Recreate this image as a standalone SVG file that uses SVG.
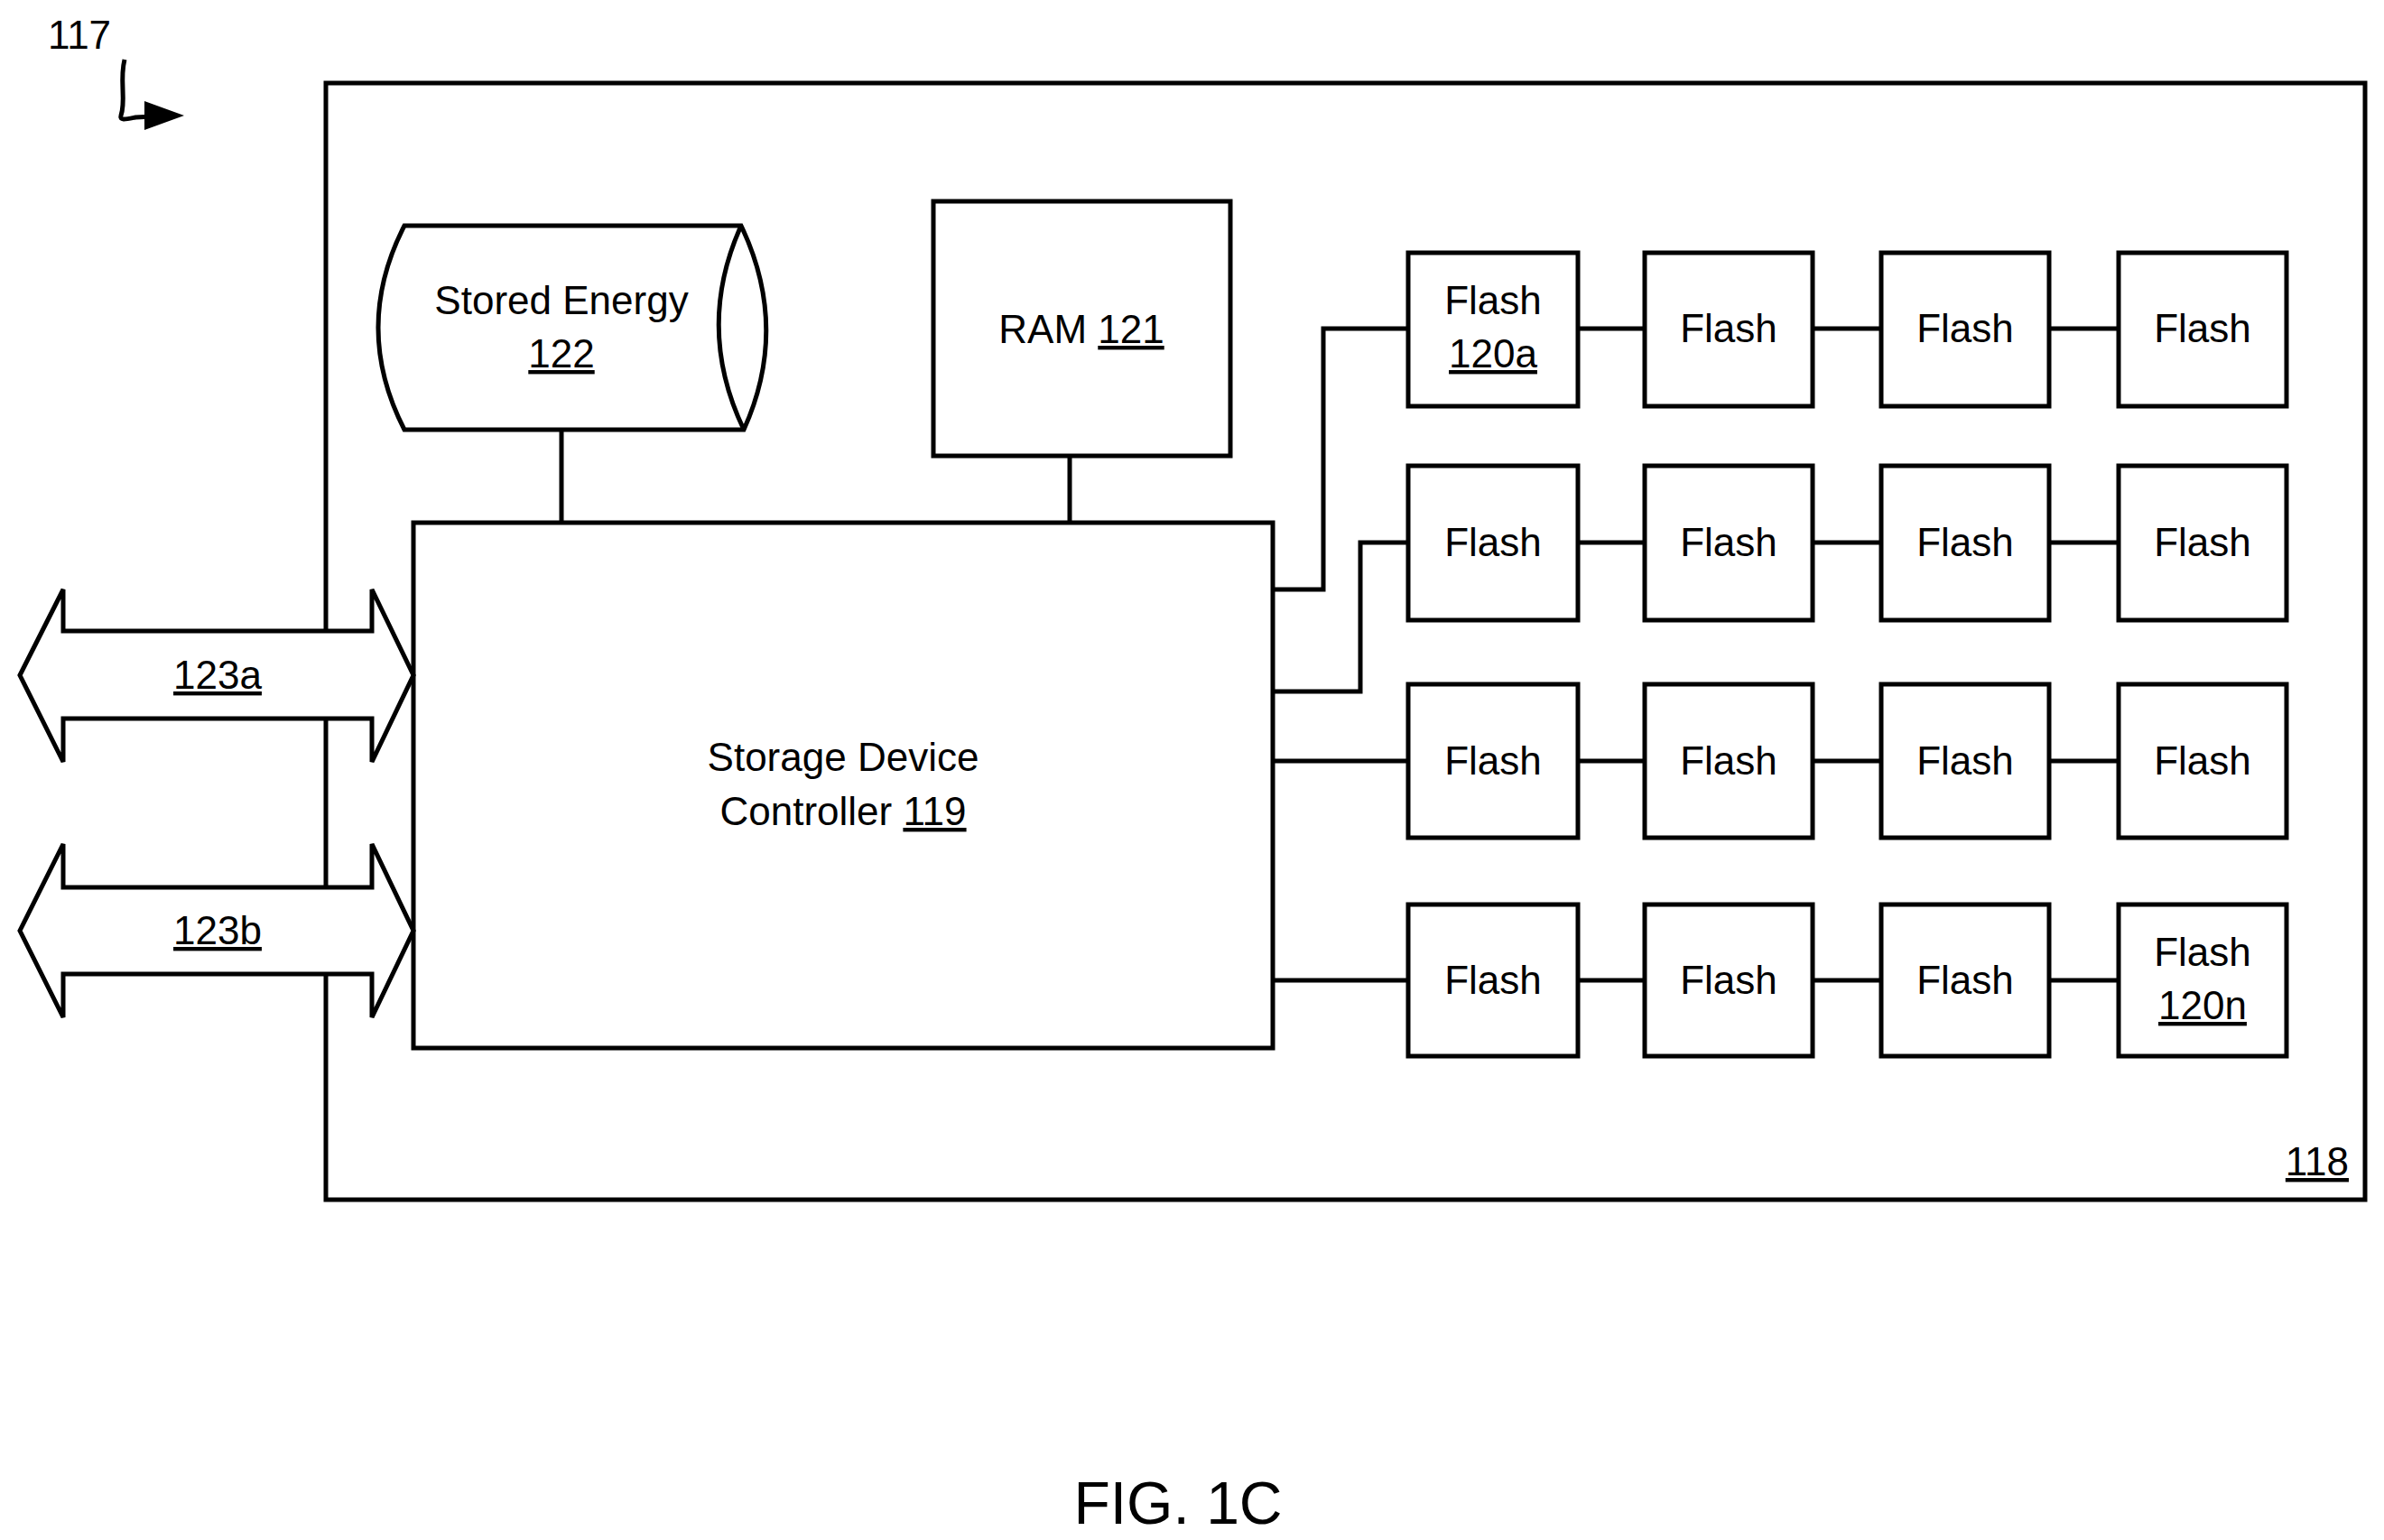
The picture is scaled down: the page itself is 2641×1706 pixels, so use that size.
<svg xmlns="http://www.w3.org/2000/svg" width="2641" height="1706" viewBox="0 0 2641 1706">
<style>
.s{fill:#fff;stroke:#000;stroke-width:5}
.l{fill:none;stroke:#000;stroke-width:5}
text{font-family:"Liberation Sans Narrow","Liberation Sans",Arial,sans-serif;font-size:44px;fill:#000;text-anchor:middle;font-stretch:condensed}
.u{text-decoration:underline}
</style>
<g id="ref117"><text x="88" y="54">117</text>
<path class="l" d="M138,66 C132,90 140,110 134,128 C132,134 140,132 150,130 L170,129"/>
<path d="M160,112 L204,128 L160,144z"/></g>
<g id="board118"><rect class="s" x="361" y="92" width="2259" height="1237"/><text x="2602" y="1302" class="u" style="text-anchor:end">118</text></g>
<g id="connectors">
<line class="l" x1="622" y1="476" x2="622" y2="579"/>
<line class="l" x1="1185" y1="505" x2="1185" y2="579"/>
<polyline class="l" points="1410,653 1466,653 1466,364 1560,364"/>
<polyline class="l" points="1410,766 1507,766 1507,601 1560,601"/>
<line class="l" x1="1410" y1="843" x2="1560" y2="843"/>
<line class="l" x1="1410" y1="1086" x2="1560" y2="1086"/>
<line class="l" x1="1748" y1="364" x2="1822" y2="364"/><line class="l" x1="2008" y1="364" x2="2084" y2="364"/><line class="l" x1="2270" y1="364" x2="2347" y2="364"/>
<line class="l" x1="1748" y1="601" x2="1822" y2="601"/><line class="l" x1="2008" y1="601" x2="2084" y2="601"/><line class="l" x1="2270" y1="601" x2="2347" y2="601"/>
<line class="l" x1="1748" y1="843" x2="1822" y2="843"/><line class="l" x1="2008" y1="843" x2="2084" y2="843"/><line class="l" x1="2270" y1="843" x2="2347" y2="843"/>
<line class="l" x1="1748" y1="1086" x2="1822" y2="1086"/><line class="l" x1="2008" y1="1086" x2="2084" y2="1086"/><line class="l" x1="2270" y1="1086" x2="2347" y2="1086"/>
</g>
<g id="energy122"><path class="s" d="M448,250 L821,250 Q875,363 824,476 L448,476 Q390,363 448,250z"/><path class="l" d="M821,250 Q770,363 824,476"/>
<text x="622" y="348">Stored Energy</text><text x="622" y="407" class="u">122</text></g>
<g id="ram121"><rect class="s" x="1034" y="223" width="329" height="282"/><text x="1198" y="380">RAM <tspan class="u">121</tspan></text></g>
<g id="controller119"><rect class="s" x="458" y="579" width="952" height="582"/><text x="934" y="854">Storage Device</text><text x="934" y="914">Controller <tspan class="u">119</tspan></text></g>
<g id="bus123a"><polygon class="s" points="22,748 70,653 70,699 412,699 412,653 458,748 412,844 412,796 70,796 70,844"/><text x="241" y="763" class="u">123a</text></g>
<g id="bus123b"><polygon class="s" points="22,1031 70,935 70,983 412,983 412,935 458,1031 412,1127 412,1079 70,1079 70,1127"/><text x="241" y="1046" class="u">123b</text></g>
<g id="flash120a"><rect class="s" x="1560" y="280" width="188" height="170"/><text x="1654" y="348">Flash</text><text x="1654" y="407" class="u">120a</text></g>
<g id="f12"><rect class="s" x="1822" y="280" width="186" height="170"/><text x="1915" y="379">Flash</text></g>
<g id="f13"><rect class="s" x="2084" y="280" width="186" height="170"/><text x="2177" y="379">Flash</text></g>
<g id="f14"><rect class="s" x="2347" y="280" width="186" height="170"/><text x="2440" y="379">Flash</text></g>
<g id="f21"><rect class="s" x="1560" y="516" width="188" height="171"/><text x="1654" y="616">Flash</text></g>
<g id="f22"><rect class="s" x="1822" y="516" width="186" height="171"/><text x="1915" y="616">Flash</text></g>
<g id="f23"><rect class="s" x="2084" y="516" width="186" height="171"/><text x="2177" y="616">Flash</text></g>
<g id="f24"><rect class="s" x="2347" y="516" width="186" height="171"/><text x="2440" y="616">Flash</text></g>
<g id="f31"><rect class="s" x="1560" y="758" width="188" height="170"/><text x="1654" y="858">Flash</text></g>
<g id="f32"><rect class="s" x="1822" y="758" width="186" height="170"/><text x="1915" y="858">Flash</text></g>
<g id="f33"><rect class="s" x="2084" y="758" width="186" height="170"/><text x="2177" y="858">Flash</text></g>
<g id="f34"><rect class="s" x="2347" y="758" width="186" height="170"/><text x="2440" y="858">Flash</text></g>
<g id="f41"><rect class="s" x="1560" y="1002" width="188" height="168"/><text x="1654" y="1101">Flash</text></g>
<g id="f42"><rect class="s" x="1822" y="1002" width="186" height="168"/><text x="1915" y="1101">Flash</text></g>
<g id="f43"><rect class="s" x="2084" y="1002" width="186" height="168"/><text x="2177" y="1101">Flash</text></g>
<g id="flash120n"><rect class="s" x="2347" y="1002" width="186" height="168"/><text x="2440" y="1070">Flash</text><text x="2440" y="1129" class="u">120n</text></g>
<text x="1305" y="1688" style="font-size:66px;font-stretch:normal;font-family:'Liberation Sans',Arial,sans-serif">FIG. 1C</text>
</svg>
